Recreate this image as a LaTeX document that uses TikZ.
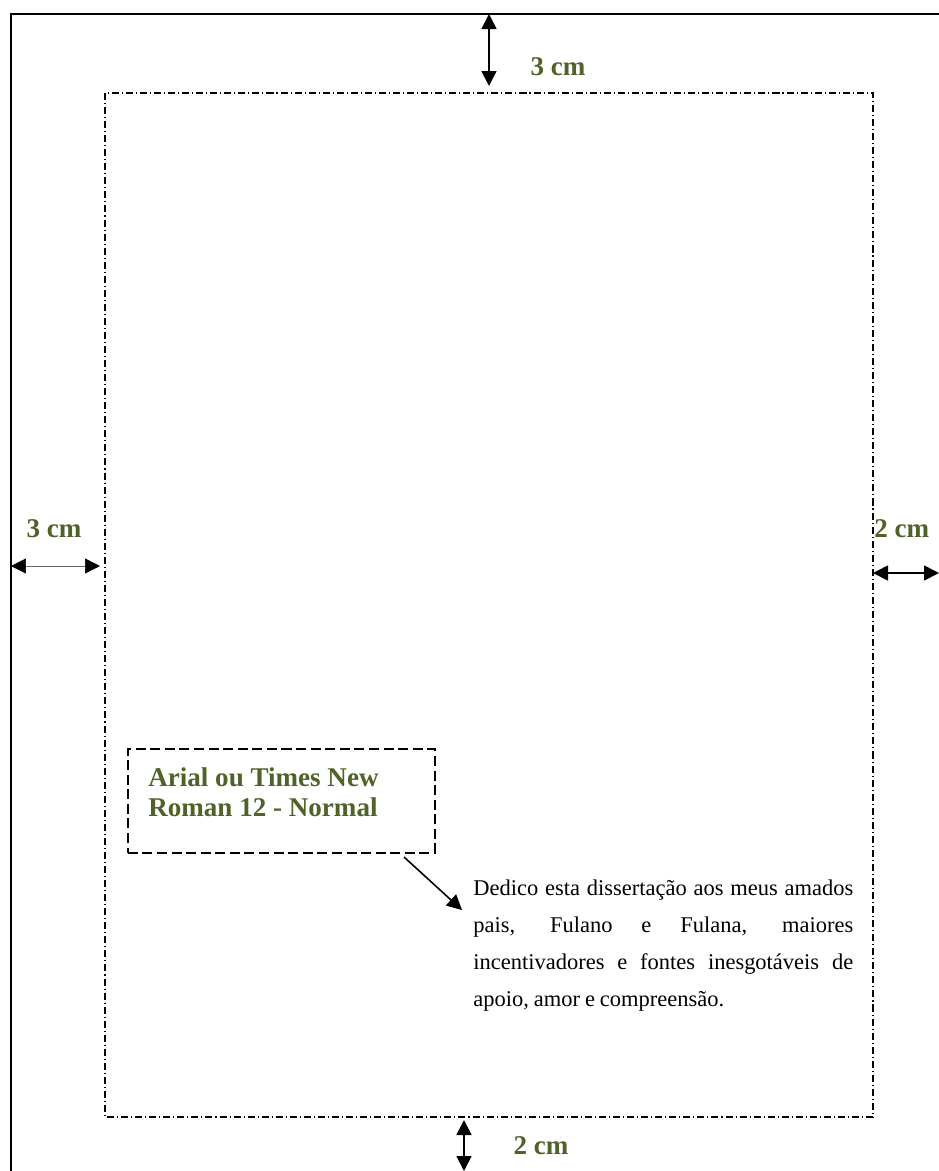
\documentclass[tikz,border=0pt]{standalone}
\usepackage{fontspec}
\setmainfont{Liberation Serif}
\usetikzlibrary{arrows.meta}
\definecolor{olivetext}{RGB}{79,98,40}

\begin{document}
\begin{tikzpicture}[x=0.02cm,y=-0.02cm]
	% styles
	\tikzstyle{margin} = [draw,line width=0.7pt,dash pattern=on 4pt off 1.7pt on 0.6pt off 1.7pt]
	\tikzstyle{hint} = [draw,line width=0.9pt,dash pattern=on 5.7pt off 2.6pt]
	\tikzstyle{tag} = [text=olivetext,font=\fontsize{15.4}{17}\selectfont\bfseries,inner sep=0pt]
	\tikzstyle{dim} = [line width=1pt,{Triangle[length=0.3cm,width=0.3cm]}-{Triangle[length=0.3cm,width=0.3cm]}]
	
	% bounding box
	\useasboundingbox (0,0) rectangle (939,1171);
	
	% page border
	\draw[line width=1.1pt] (11,1190) -- (11,14) -- (950,14);
	
	% text area
	\path[margin] (105,93) rectangle (873,1117);
	
	% margins
	\coordinate (topA) at (489,14);
	\coordinate (topB) at (489,86);
	\coordinate (leftA) at (11,566);
	\coordinate (leftB) at (100,566);
	\coordinate (rightA) at (873,573);
	\coordinate (rightB) at (939,573);
	\coordinate (botA) at (464,1120);
	\coordinate (botB) at (464,1171);
	\draw[dim] (topA) -- (topB);
	\draw[dim,line width=0.4pt,black!60,{Triangle[length=0.3cm,width=0.3cm,black]}-{Triangle[length=0.3cm,width=0.3cm,black]}] (leftA) -- (leftB);
	\draw[dim] (rightA) -- (rightB);
	\draw[dim] (botA) -- (botB);
	\node[tag] (toptag) at (558,67) {3 cm};
	\node[tag] (lefttag) at (54,529) {3 cm};
	\node[tag,anchor=west] (righttag) at (874,529) {2 cm};
	\node[tag] (bottag) at (541,1146) {2 cm};
	
	% font hint
	\node[hint,minimum width=6.14cm,minimum height=2.08cm,anchor=north west] (fontbox) at (127,748) {};
	\node[tag,anchor=north west,align=left] (fonttag) at (148,767) {Arial ou Times New\\Roman 12 - Normal};
	
	% dedication
	\node[anchor=north west,inner sep=0pt,text width=7.6cm,align=justify,
		font=\fontsize{12.8}{21}\selectfont] (dedica) at (473,880)
		{\hyphenpenalty=10000 \spaceskip=0.22em plus 2em minus 0.05em
		Dedico esta dissertação aos meus amados\linebreak pais, Fulano e Fulana, maiores\linebreak incentivadores e fontes inesgotáveis de\linebreak apoio, amor e compreensão.};
	\coordinate (hintA) at (404,857);
	\coordinate (hintB) at (462,910);
	\draw[line width=0.9pt,-{Triangle[length=0.3cm,width=0.3cm]}] (hintA) -- (hintB);
\end{tikzpicture}
\end{document}
